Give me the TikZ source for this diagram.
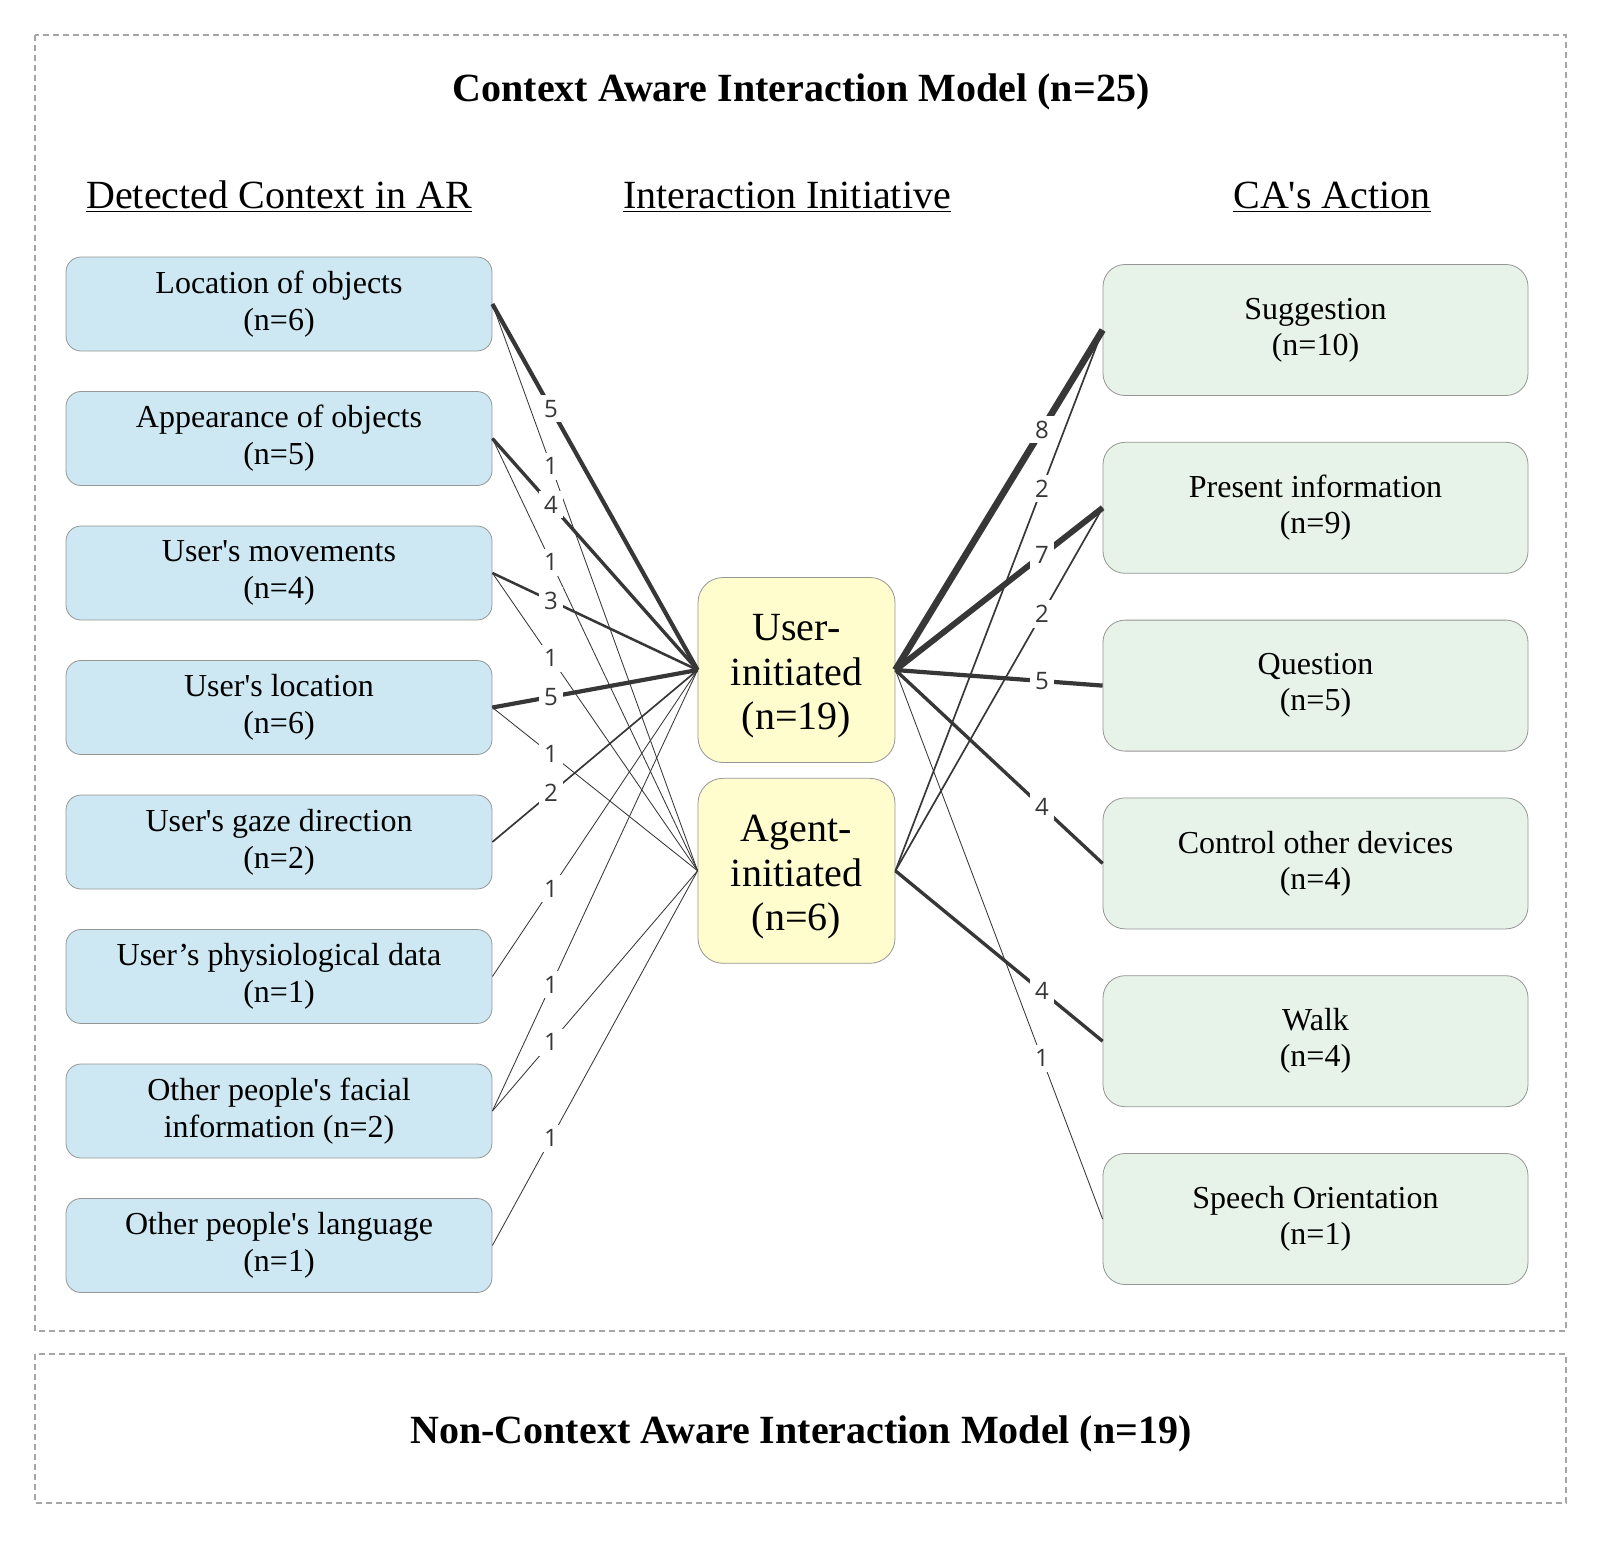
\documentclass[tikz,border=0pt]{standalone}
\usepackage{fontspec}
\setmainfont{Liberation Serif}
\newfontfamily\numfont{Open Sans}
\usetikzlibrary{positioning}

\definecolor{ctxblue}{RGB}{205,232,242}
\definecolor{iniyellow}{RGB}{255,252,205}
\definecolor{actgreen}{RGB}{231,243,232}
\definecolor{boxline}{RGB}{150,150,150}
\definecolor{linkgray}{RGB}{55,55,55}
\newcommand{\apo}{\textquotesingle}
\newcommand{\topgap}{\rule{0pt}{19.5pt}}

\tikzstyle{context} = [rectangle, rounded corners=7.5pt, minimum width=213pt, minimum height=47pt, align=center, draw=boxline, fill=ctxblue, font=\fontsize{16}{18.5}\selectfont]
\tikzstyle{initiative} = [rectangle, rounded corners=12.5pt, minimum width=98.5pt, minimum height=92.5pt, align=center, draw=boxline, fill=iniyellow, font=\fontsize{20}{22.2}\selectfont]
\tikzstyle{action} = [rectangle, rounded corners=11pt, minimum width=212.5pt, minimum height=65.5pt, align=center, draw=boxline, fill=actgreen, font=\fontsize{16}{18}\selectfont]
\tikzstyle{head} = [font=\fontsize{20}{24}\selectfont]
\tikzstyle{frame} = [draw=gray!70, line width=0.6pt, dash pattern=on 3pt off 2pt]
\tikzstyle{link} = [draw=linkgray]
\tikzstyle{cnt} = [fill=white, inner sep=2.5pt, text=linkgray, font=\numfont\fontsize{12}{12}\selectfont]
\tikzset{lw/.style={line width=#1*0.42pt}}

\begin{document}
\begin{tikzpicture}[x=0.5pt, y=-0.5pt, node distance=19.85pt]

\useasboundingbox [fill=white] (0,0) rectangle (1600,1542);

% frames
\draw [frame] (35,35) rectangle (1566,1331);
\draw [frame] (35,1354) rectangle (1566,1503);
\node (title) at (801,92) [font=\bfseries\fontsize{20}{24}\selectfont] {Context Aware Interaction Model (n=25)};
\node (nontitle) at (801,1434) [font=\bfseries\fontsize{20}{24}\selectfont] {Non-Context Aware Interaction Model (n=19)};

% column heads
\node (hctx) at (279,197) [head] {\underline{Detected Context in AR}};
\node (hini) at (787,197) [head] {\underline{Interaction Initiative}};
\node (hact) at (1332,197) [head] {\underline{CA\apo s Action}};

% detected context
\node (locobj) at (279,304) [context] {Location of objects\\(n=6)};
\node (appobj) [context, below=of locobj] {Appearance of objects\\(n=5)};
\node (moves) [context, below=of appobj] {User\apo s movements\\(n=4)};
\node (uloc) [context, below=of moves] {User\apo s location\\(n=6)};
\node (gaze) [context, below=of uloc] {User\apo s gaze direction\\(n=2)};
\node (physio) [context, below=of gaze] {User’s physiological data\\(n=1)};
\node (facial) [context, below=of physio] {Other people\apo s facial\\information (n=2)};
\node (lang) [context, below=of facial] {Other people\apo s language\\(n=1)};

% initiative
\node (user) at (796.5,670) [initiative] {\topgap User-\\initiated\\(n=19)};
\node (agent) [initiative, below=7.5pt of user] {\topgap Agent-\\initiated\\(n=6)};

% actions
\node (sugg) at (1315.5,330) [action] {Suggestion\\(n=10)};
\node (present) [action, below=23pt of sugg] {Present information\\(n=9)};
\node (question) [action, below=23pt of present] {Question\\(n=5)};
\node (control) [action, below=23pt of question] {Control other devices\\(n=4)};
\node (walk) [action, below=23pt of control] {Walk\\(n=4)};
\node (speech) [action, below=23pt of walk] {Speech Orientation\\(n=1)};

% context -> initiative
\draw [link, lw=5] (locobj.east) -- node[cnt, pos=0.286] {5} (user.west);
\draw [link, lw=1] (locobj.east) -- node[cnt, pos=0.286] {1} (agent.west);
\draw [link, lw=4] (appobj.east) -- node[cnt, pos=0.286] {4} (user.west);
\draw [link, lw=1] (appobj.east) -- node[cnt, pos=0.286] {1} (agent.west);
\draw [link, lw=3] (moves.east) -- node[cnt, pos=0.286] {3} (user.west);
\draw [link, lw=1] (moves.east) -- node[cnt, pos=0.286] {1} (agent.west);
\draw [link, lw=5] (uloc.east) -- node[cnt, pos=0.286] {5} (user.west);
\draw [link, lw=1] (uloc.east) -- node[cnt, pos=0.286] {1} (agent.west);
\draw [link, lw=2] (gaze.east) -- node[cnt, pos=0.286] {2} (user.west);
\draw [link, lw=1] (physio.east) -- node[cnt, pos=0.286] {1} (user.west);
\draw [link, lw=1] (facial.east) -- node[cnt, pos=0.286] {1} (user.west);
\draw [link, lw=1] (facial.east) -- node[cnt, pos=0.286] {1} (agent.west);
\draw [link, lw=1] (lang.east) -- node[cnt, pos=0.286] {1} (agent.west);

% initiative -> action
\draw [link, lw=8] (user.east) -- node[cnt, pos=0.707] {8} (sugg.west);
\draw [link, lw=2] (agent.east) -- node[cnt, pos=0.707] {2} (sugg.west);
\draw [link, lw=7] (user.east) -- node[cnt, pos=0.707] {7} (present.west);
\draw [link, lw=2] (agent.east) -- node[cnt, pos=0.707] {2} (present.west);
\draw [link, lw=5] (user.east) -- node[cnt, pos=0.707] {5} (question.west);
\draw [link, lw=4] (user.east) -- node[cnt, pos=0.707] {4} (control.west);
\draw [link, lw=4] (agent.east) -- node[cnt, pos=0.707] {4} (walk.west);
\draw [link, lw=1] (user.east) -- node[cnt, pos=0.707] {1} (speech.west);

\end{tikzpicture}
\end{document}
